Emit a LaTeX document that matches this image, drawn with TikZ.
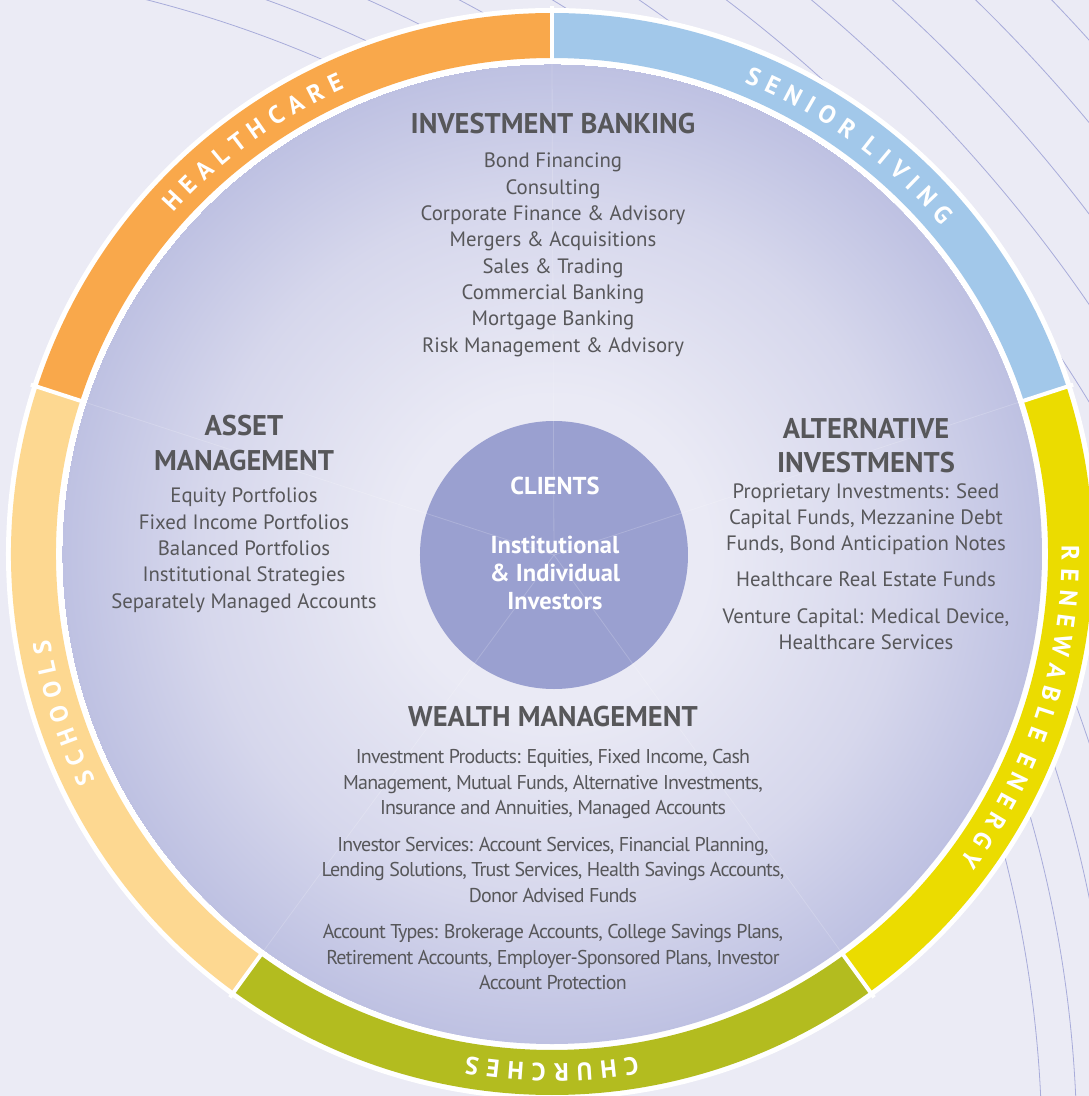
\documentclass[tikz,border=0pt]{standalone}
\usepackage{fontspec}
\setmainfont{PT Sans}
\newfontfamily\ringfont[WordSpace=1.2]{PT Sans Bold}
\newfontfamily\tightfont[LetterSpace=-4]{PT Sans}
\usetikzlibrary{decorations.text}

\definecolor{bgcol}{RGB}{235,235,245}
\definecolor{arccol}{RGB}{168,172,218}
\definecolor{hcareorange}{RGB}{249,168,75}
\definecolor{seniorblue}{RGB}{162,200,234}
\definecolor{energyyellow}{RGB}{235,220,0}
\definecolor{churchgreen}{RGB}{179,188,31}
\definecolor{schoolpeach}{RGB}{253,216,145}
\definecolor{diskin}{RGB}{234,234,245}
\definecolor{diskmid}{RGB}{214,215,236}
\definecolor{diskout}{RGB}{190,193,226}
\definecolor{clientblue}{RGB}{154,160,208}
\definecolor{textgray}{RGB}{87,87,90}

\pgfdeclareradialshading{diskglow}{\pgfpointorigin}{color(0bp)=(diskin); color(8bp)=(diskin); color(18bp)=(diskmid); color(25bp)=(diskout)}

\begin{document}
\begin{tikzpicture}[x=1pt, y=1pt,
  heading/.style={font=\bfseries\fontsize{28.5}{34.5}\selectfont, text=textgray, align=center, inner sep=0pt},
  itemlist/.style={font=\fontsize{20.8}{26.3}\selectfont, text=textgray, align=center, inner sep=0pt, anchor=north},
  tightlist/.style={font=\tightfont\fontsize{20}{25.5}\selectfont, text=textgray, align=center, inner sep=0pt, anchor=north},
  corelabel/.style={font=\bfseries\fontsize{24.5}{28}\selectfont, text=white, align=center, inner sep=0pt},
  ringlabel/.style={decorate, decoration={text along path, text align=center, text={|\color{white}\ringfont\fontsize{25}{25}\selectfont|#1}}}]

  \useasboundingbox (-552,-542) rectangle (537,554);
  \fill[bgcol] (-552,-542) rectangle (537,554);
  \begin{scope}
    \clip (-552,-542) rectangle (537,554);
    \foreach \r in {1190,1225,1263,1303,1349,1396,1447,1500,1553,1610,1664}
      \draw[arccol, line width=0.8pt] (-700,-599) circle (\r);
  \end{scope}

  \fill[white] (0,0) circle (546);
  \foreach \a/\col in {90/hcareorange, 18/seniorblue, -54/energyyellow, -126/churchgreen, 162/schoolpeach}
    \fill[\col] (\a:541) arc[start angle=\a, delta angle=72, radius=541]
      -- ({\a+72}:496) arc[start angle=\a+72, delta angle=-72, radius=496] -- cycle;
  \foreach \a in {18,90,162,234,306}
    \draw[white, line width=4pt] (\a:488) -- (\a:548);

  \shade[shading=diskglow] (0,0) circle (490);
  \node[circle, fill=clientblue, minimum size=268pt, inner sep=0pt] (core) at (2,-1) {};
  \foreach \a in {18,90,162,234,306}
    \draw[white, opacity=0.18, line width=0.8pt] (core.center) -- (\a:490);

  \path[ringlabel=H E A L T H C A R E] (162:509.5) arc[start angle=162, end angle=90, radius=509.5];
  \path[ringlabel=S E N I O R {} L I V I N G] (90:509.5) arc[start angle=90, end angle=18, radius=509.5];
  \path[ringlabel=R E N E W A B L E {} E N E R G Y] (18:509.5) arc[start angle=18, end angle=-54, radius=509.5];
  \path[ringlabel=C H U R C H E S] (-54:509.5) arc[start angle=-54, end angle=-126, radius=509.5];
  \path[ringlabel=S C H O O L S] (234:509.5) arc[start angle=234, end angle=162, radius=509.5];

  \node[heading] (ibhead) at (1,430) {INVESTMENT BANKING};
  \node[itemlist] (iblist) at (1,401) {Bond Financing\\Consulting\\Corporate Finance \& Advisory\\Mergers \& Acquisitions\\Sales \& Trading\\Commercial Banking\\Mortgage Banking\\Risk Management \& Advisory};

  \node[heading, anchor=north] (amhead) at (-308,139) {ASSET\\MANAGEMENT};
  \node[itemlist] (amlist) at (-308,66) {Equity Portfolios\\Fixed Income Portfolios\\Balanced Portfolios\\Institutional Strategies\\Separately Managed Accounts};

  \node[heading, anchor=north] (aihead) at (314,136) {ALTERNATIVE\\INVESTMENTS};
  \node[itemlist] (ailist) at (314,71) {Proprietary Investments: Seed\\Capital Funds, Mezzanine Debt\\Funds, Bond Anticipation Notes\\[10pt]Healthcare Real Estate Funds\\[10pt]Venture Capital: Medical Device,\\Healthcare Services};

  \node[corelabel] (clients) at (3,68) {CLIENTS};
  \node[corelabel, anchor=north] (investors) at (3,18) {Institutional\\\& Individual\\Investors};

  \node[heading] (wmhead) at (1,-163) {WEALTH MANAGEMENT};
  \node[tightlist] (wmlist) at (1,-195.5) {Investment Products: Equities, Fixed Income, Cash\\Management, Mutual Funds, Alternative Investments,\\Insurance and Annuities, Managed Accounts\\[11pt]Investor Services: Account Services, Financial Planning,\\Lending Solutions, Trust Services, Health Savings Accounts,\\Donor Advised Funds\\[11pt]Account Types: Brokerage Accounts, College Savings Plans,\\Retirement Accounts, Employer-Sponsored Plans, Investor\\Account Protection};
\end{tikzpicture}
\end{document}
